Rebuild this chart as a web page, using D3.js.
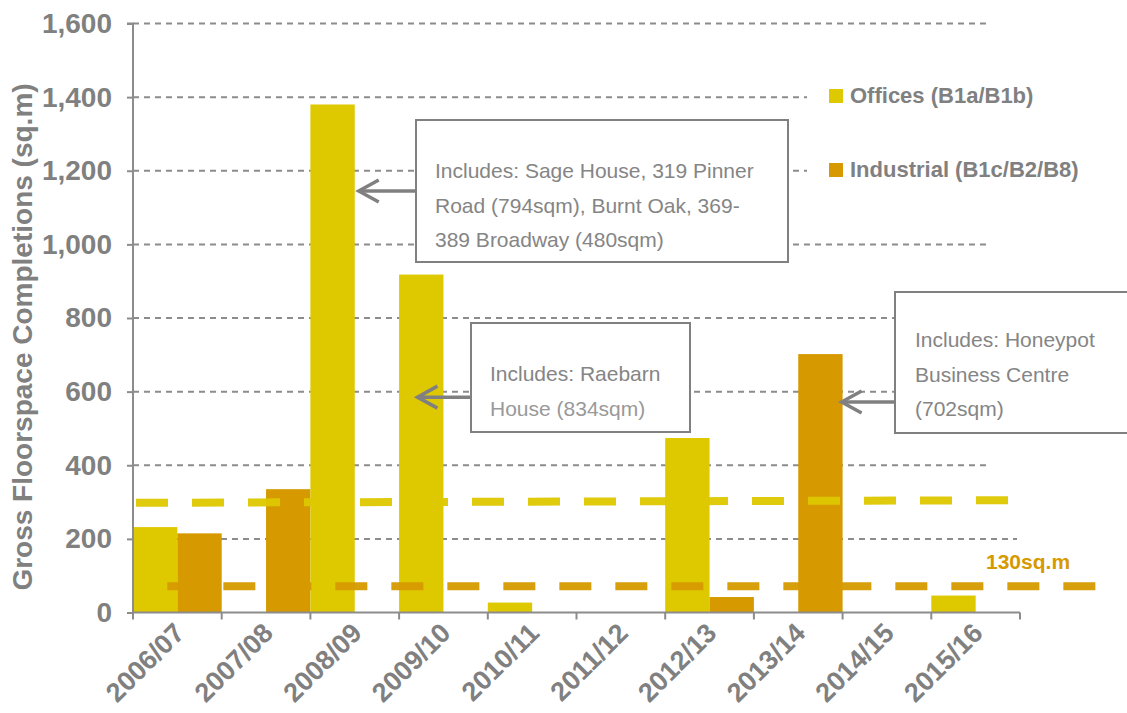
<!DOCTYPE html>
<html><head><meta charset="utf-8">
<script src="https://cdn.jsdelivr.net/npm/d3@7/dist/d3.min.js"></script>
<style>body{margin:0;background:#fff}svg{display:block}</style>
</head><body><svg id="chart" width="1127" height="713"></svg>
<script>
const categories = ["2006/07","2007/08","2008/09","2009/10","2010/11","2011/12","2012/13","2013/14","2014/15","2015/16"];
const offices    = [232, 0, 1380, 918, 27, 0, 474, 0, 0, 46];
const industrial = [215, 335, 0, 0, 0, 0, 42, 702, 0, 0];
const officesTrend = [298, 305];   // dashed yellow line, start / end value
const industrialRef = [71, 71];    // dashed orange line
const refLabel = "130sq.m";
const yTicks = [0,200,400,600,800,1000,1200,1400,1600];
const seriesNames = ["Offices (B1a/B1b)", "Industrial (B1c/B2/B8)"];
const notes = [
  {lines:["Includes: Sage House, 319 Pinner","Road (794sqm), Burnt Oak, 369-","389 Broadway (480sqm)"], cat:"2008/09", value:1145},
  {lines:["Includes: Raebarn","House (834sqm)"], cat:"2009/10", value:585},
  {lines:["Includes: Honeypot","Business Centre","(702sqm)"], cat:"2013/14", value:572}
];

const C_OFF = "#dec800", C_IND = "#d69a00", GRAY = "#808080", AX = "#8c8c8c";
const FONT = "Liberation Sans, Arial, sans-serif";
const svg = d3.select("#chart");
const x = d3.scaleBand().domain(categories).range([133, 1020]).padding(0);
const sub = d3.scaleBand().domain(["o","i"]).range([0, x.bandwidth()]).padding(0);
const y = d3.scaleLinear().domain([0, 1600]).range([612.5, 23.5]);

// gridlines
svg.append("g").selectAll("line").data(yTicks.filter(d=>d>0)).join("line")
  .attr("x1", 133).attr("x2", d => d === 200 ? 1017 : 990).attr("y1", d=>y(d)).attr("y2", d=>y(d))
  .attr("stroke", AX).attr("stroke-width", 2).attr("stroke-dasharray", "6,5");

// bars
const g = svg.append("g");
categories.forEach((c,i)=>{
  if (offices[i] > 0) g.append("rect").attr("x", x(c)+sub("o")).attr("width", sub.bandwidth())
     .attr("y", y(offices[i])).attr("height", y(0)-y(offices[i])).attr("fill", C_OFF);
  if (industrial[i] > 0) g.append("rect").attr("x", x(c)+sub("i")).attr("width", sub.bandwidth())
     .attr("y", y(industrial[i])).attr("height", y(0)-y(industrial[i])).attr("fill", C_IND);
});

// reference dashed lines
svg.append("line").attr("x1", x(categories[0])+3).attr("x2", 1008)
  .attr("y1", y(officesTrend[0])).attr("y2", y(officesTrend[1]))
  .attr("stroke", C_OFF).attr("stroke-width", 8).attr("stroke-dasharray", "32,24").attr("opacity", 0.95);
svg.append("line").attr("x1", x(categories[0])+sub.bandwidth()-10).attr("x2", 1096)
  .attr("y1", y(industrialRef[0])).attr("y2", y(industrialRef[1]))
  .attr("stroke", C_IND).attr("stroke-width", 8).attr("stroke-dasharray", "32,24").attr("opacity", 0.95);
svg.append("text").attr("x", 986).attr("y", 569).text(refLabel)
  .attr("font-family", FONT).attr("font-weight", "bold")
  .attr("font-size", 21).attr("fill", C_IND);

// axes
const yAxis = svg.append("g").attr("transform", "translate(133,0)")
  .call(d3.axisLeft(y).tickValues(yTicks).tickSize(6).tickPadding(15).tickFormat(d3.format(",")));
const xAxis = svg.append("g").attr("transform", `translate(0,${y(0)})`)
  .call(d3.axisBottom(x).tickSize(0).tickFormat(""));
xAxis.selectAll("line.bnd").data(categories.map(c=>x(c)).concat([x.range()[1]])).join("line")
  .attr("class","bnd").attr("x1", d=>d).attr("x2", d=>d).attr("y1", 0).attr("y2", 7);
[yAxis, xAxis].forEach(a=>{
  a.select(".domain").attr("stroke", AX).attr("stroke-width", 2);
  a.selectAll("line").attr("stroke", AX).attr("stroke-width", 2);
});
yAxis.select(".domain").attr("d", `M-6,${y(1600)}H0V${y(0)}`);
xAxis.select(".domain").attr("d", `M133,0H1020`);
yAxis.selectAll("text").attr("font-family", FONT)
  .attr("font-weight", "bold").attr("font-size", 28).attr("fill", GRAY);

// x labels
svg.append("g").selectAll("text").data(categories).join("text")
  .attr("transform", d=>`translate(${x(d)+x.bandwidth()/2+2},${628}) rotate(-45)`)
  .attr("text-anchor", "end").attr("dy", "0.35em").text(d=>d)
  .attr("font-family", FONT).attr("font-weight", "bold")
  .attr("font-size", 27).attr("fill", GRAY);

// y title
svg.append("text").attr("transform", "translate(32,337) rotate(-90)").attr("text-anchor", "middle")
  .text("Gross Floorspace Completions (sq.m)")
  .attr("font-family", FONT).attr("font-weight", "bold")
  .attr("font-size", 28).attr("fill", GRAY);

// legend
const lg = svg.append("g");
lg.append("rect").attr("x", 807).attr("y", 60).attr("width", 300).attr("height", 140).attr("fill", "#fff");
[[C_OFF, 89], [C_IND, 163]].forEach(([col, yy], i)=>{
  lg.append("rect").attr("x", 829).attr("y", yy).attr("width", 14).attr("height", 14).attr("fill", col);
  lg.append("text").attr("x", 850).attr("y", yy+14).text(seriesNames[i])
    .attr("font-family", FONT).attr("font-weight", "bold")
    .attr("font-size", 22).attr("fill", GRAY);
});

// annotation boxes
const boxes = [
  {x:416, y:120, w:372, h:142, tx:435, base:178, tipDx:4, src:"o"},
  {x:471, y:323, w:219, h:109, tx:490, base:381, tipDx:-26, src:"o"},
  {x:895, y:292, w:240, h:141, tx:915, base:347, tipDx:-1, src:"i"}
];
notes.forEach((n, i)=>{
  const b = boxes[i];
  const ay = y(n.value);
  const tip = x(n.cat) + sub(b.src) + sub.bandwidth() + b.tipDx;
  svg.append("rect").attr("x", b.x).attr("y", b.y).attr("width", b.w).attr("height", b.h)
    .attr("fill", "#fff").attr("stroke", GRAY).attr("stroke-width", 2);
  n.lines.forEach((t, j)=>{
    svg.append("text").attr("x", b.tx).attr("y", b.base + j*34.5).text(t)
      .attr("font-family", FONT).attr("font-size", 21)
      .attr("fill", (i===1 && j===1) ? "#999999" : "#858585");
  });
  svg.append("path").attr("d", `M${b.x},${ay}H${tip+2}`).attr("stroke", GRAY).attr("stroke-width", 3.5).attr("fill", "none");
  svg.append("path").attr("d", `M${tip+20},${ay-11}L${tip},${ay}L${tip+20},${ay+11}`)
    .attr("stroke", GRAY).attr("stroke-width", 3.5).attr("fill", "none").attr("stroke-linejoin", "miter");
});
</script></body></html>
